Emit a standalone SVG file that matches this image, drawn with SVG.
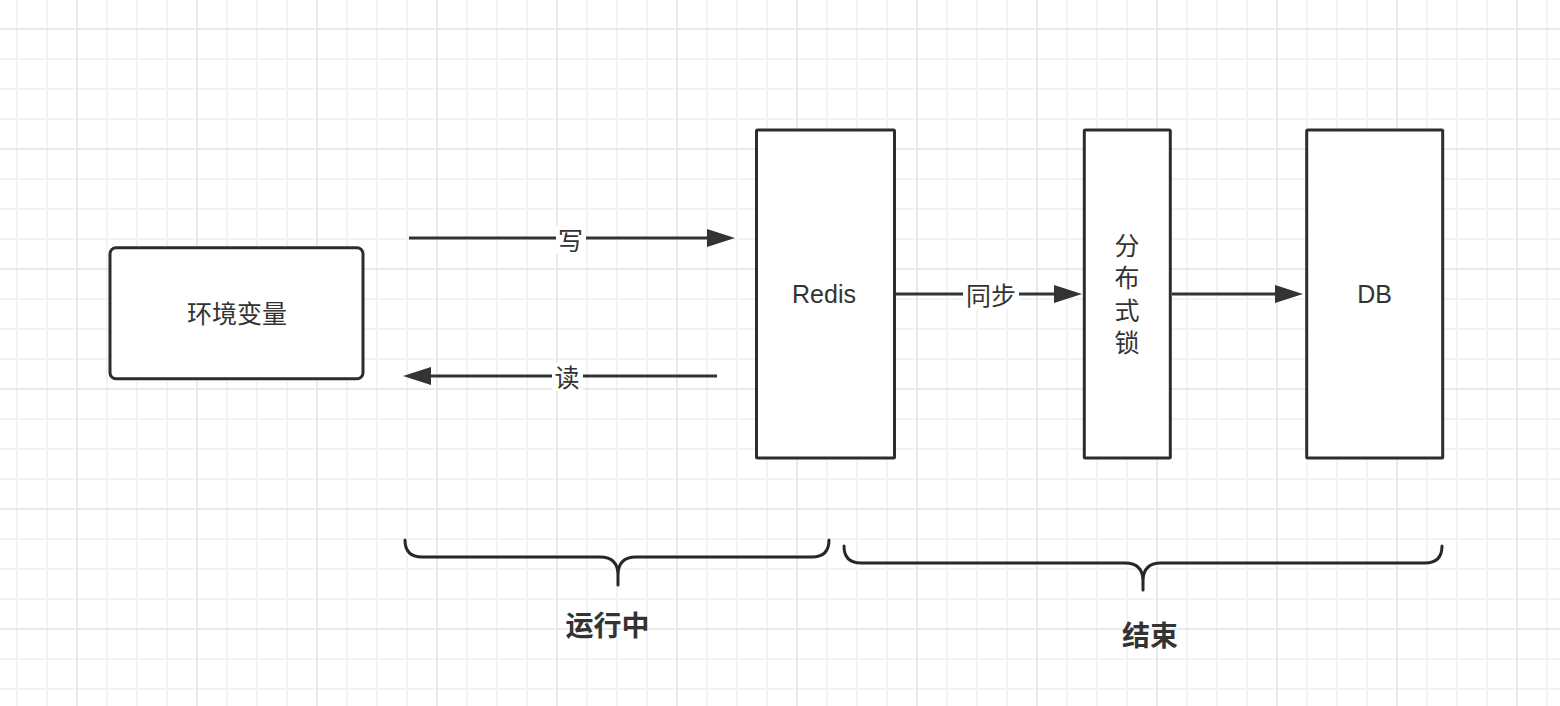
<svg xmlns="http://www.w3.org/2000/svg" width="1560" height="706" viewBox="0 0 1560 706">
<style>
.node{fill:#ffffff;stroke:#2a2d31;stroke-width:3}
.t{font-family:"Liberation Sans","Noto Sans CJK SC",sans-serif;font-size:25px;fill:#333333;text-anchor:middle}
.tb{font-family:"Noto Sans CJK SC","Liberation Sans",sans-serif;font-size:28px;font-weight:bold;fill:#333333;text-anchor:middle}
.conn{stroke:#333333;stroke-width:3;fill:none}
.lblbg{fill:#ffffff}
.brace{stroke:#24272b;stroke-width:3;fill:none;stroke-linecap:round;stroke-linejoin:round}
</style>
<defs>
<pattern id="grid" x="76" y="28" width="120" height="120" patternUnits="userSpaceOnUse">
<rect x="30" y="0" width="2" height="120" fill="#f3f3f3"/>
<rect x="60" y="0" width="2" height="120" fill="#f3f3f3"/>
<rect x="90" y="0" width="2" height="120" fill="#f3f3f3"/>
<rect x="0" y="30" width="120" height="2" fill="#f3f3f3"/>
<rect x="0" y="60" width="120" height="2" fill="#f3f3f3"/>
<rect x="0" y="90" width="120" height="2" fill="#f3f3f3"/>
<rect x="0" y="0" width="2" height="120" fill="#e9e9e9"/>
<rect x="0" y="0" width="120" height="2" fill="#e9e9e9"/>
</pattern>
<marker id="arrow" markerUnits="userSpaceOnUse" markerWidth="30" markerHeight="20" refX="2" refY="9" orient="auto">
<path d="M0,0 L28,9 L0,18 Z" fill="#333333"/>
</marker>
</defs>
<rect x="0" y="0" width="1560" height="706" fill="#ffffff"/>
<rect x="0" y="0" width="1560" height="706" fill="url(#grid)"/>

<g id="env">
<rect class="node" x="110" y="247.7" width="253" height="131" rx="6"/>
<text class="t" x="237" y="323">环境变量</text>
</g>
<g id="redis">
<rect class="node" x="756.5" y="130" width="138" height="328" rx="1"/>
<text class="t" x="824" y="302.5">Redis</text>
</g>
<g id="lock">
<rect class="node" x="1084.3" y="130" width="86" height="328" rx="1"/>
<text class="t" x="1127" y="254.5">分</text>
<text class="t" x="1127" y="287">布</text>
<text class="t" x="1127" y="319.5">式</text>
<text class="t" x="1127" y="352">锁</text>
</g>
<g id="db">
<rect class="node" x="1306.7" y="130" width="136" height="328" rx="1"/>
<text class="t" x="1374.5" y="303">DB</text>
</g>

<g id="connectors">
<line class="conn" x1="409" y1="238" x2="709" y2="238" marker-end="url(#arrow)"/>
<rect class="lblbg" x="556" y="226" width="30" height="28"/>
<text class="t" x="570.5" y="249.5">写</text>

<line class="conn" x1="717" y1="376" x2="429" y2="376" marker-end="url(#arrow)"/>
<rect class="lblbg" x="552" y="363" width="31" height="28"/>
<text class="t" x="567" y="386.5">读</text>

<line class="conn" x1="896" y1="294" x2="1056" y2="294" marker-end="url(#arrow)"/>
<rect class="lblbg" x="963" y="281" width="56" height="28"/>
<text class="t" x="991" y="304.5">同步</text>

<line class="conn" x1="1172" y1="294" x2="1277" y2="294" marker-end="url(#arrow)"/>
</g>

<g id="brace-running">
<path class="brace" d="M405,540 Q405,557 422,557 L600,557 Q618,557 618,575 L618,585 M618,575 Q618,557 636,557 L812,557 Q829,557 829,540"/>
<text class="tb" x="607.5" y="636">运行中</text>
</g>
<g id="brace-end">
<path class="brace" d="M844,546 Q844,563 861,563 L1125,563 Q1143,563 1143,581 L1143,590 M1143,581 Q1143,563 1161,563 L1425,563 Q1442,563 1442,546"/>
<text class="tb" x="1150" y="646">结束</text>
</g>
</svg>
